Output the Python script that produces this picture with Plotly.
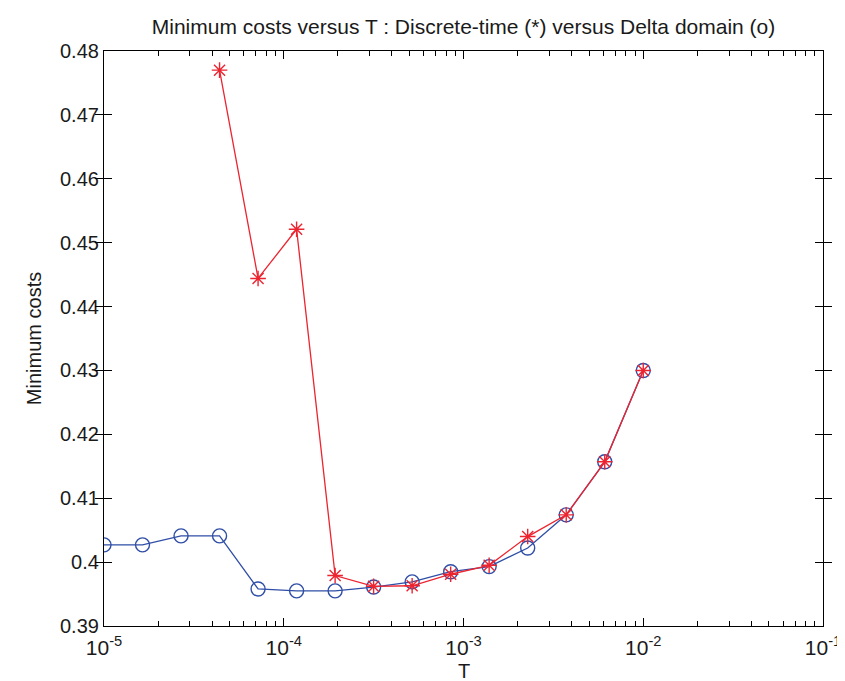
import numpy as np
import plotly.graph_objects as go

# Sampling periods T (15 logarithmically spaced values from 1e-5 to 1e-2)
T_values = [1.0e-5, 1.638e-5, 2.683e-5, 4.394e-5, 7.197e-5, 1.179e-4, 1.931e-4,
            3.162e-4, 5.179e-4, 8.483e-4, 1.389e-3, 2.276e-3, 3.728e-3,
            6.105e-3, 1.0e-2]

# Delta domain minimum costs (o)
delta_costs = [0.4027, 0.4027, 0.4041, 0.4041, 0.3958, 0.3955, 0.3955, 0.3961,
               0.3969, 0.3985, 0.3993, 0.4022, 0.4074, 0.4157, 0.4300]

# Discrete-time minimum costs (*), available from the 4th T value on
discrete_T = T_values[3:]
discrete_costs = [0.4770, 0.4444, 0.4521, 0.3979, 0.3962, 0.3963, 0.3981,
                  0.3995, 0.4040, 0.4074, 0.4157, 0.4300]

# Axis ticks
x_decades = [1e-5, 1e-4, 1e-3, 1e-2, 1e-1]
x_decade_labels = ["10<sup>-5</sup>", "10<sup>-4</sup>", "10<sup>-3</sup>",
                   "10<sup>-2</sup>", "10<sup>-1</sup>"]
y_tick_vals = [0.39, 0.40, 0.41, 0.42, 0.43, 0.44, 0.45, 0.46, 0.47, 0.48]
y_tick_text = ["0.39", "0.4", "0.41", "0.42", "0.43", "0.44", "0.45", "0.46", "0.47", "0.48"]

# all log ticks (1..9 x decade) with labels only at the decades
x_all_ticks = []
x_all_text = []
for i, d in enumerate(x_decades):
    if i == len(x_decades) - 1:
        x_all_ticks.append(d)
        x_all_text.append(x_decade_labels[i])
        break
    for m in range(1, 10):
        x_all_ticks.append(d * m)
        x_all_text.append(x_decade_labels[i] if m == 1 else "")

BLUE = "#2f4ea6"
RED = "#ec2430"
TXT = "#1a1a1a"
FONT = "Liberation Sans, Arial, Helvetica, sans-serif"
XRANGE = [-5, -1]

fig = go.Figure()
fig.add_trace(go.Scatter(
    x=T_values, y=delta_costs, mode="lines+markers",
    line=dict(color=BLUE, width=1.3),
    marker=dict(symbol="circle-open", size=14, color=BLUE, line=dict(width=1.4, color=BLUE)),
    showlegend=False, name="Delta domain"))
fig.add_trace(go.Scatter(
    x=discrete_T, y=discrete_costs, mode="lines+markers",
    line=dict(color=RED, width=1.3),
    marker=dict(symbol="asterisk-open", size=13, color=RED, line=dict(width=1.4, color=RED)),
    showlegend=False, name="Discrete-time"))
# invisible carrier trace for the overlay axis that draws the longer decade ticks
fig.add_trace(go.Scatter(
    x=T_values, y=delta_costs, xaxis="x2", mode="lines",
    line=dict(width=0, color="rgba(0,0,0,0)"), opacity=0,
    hoverinfo="skip", showlegend=False))

fig.update_layout(
    width=845, height=681,
    margin=dict(l=96, r=16, t=43, b=63),
    paper_bgcolor="white", plot_bgcolor="white",
    font=dict(family=FONT, size=20, color=TXT),
    title=dict(text="Minimum costs versus T : Discrete-time (*) versus Delta domain (o)",
               xref="paper", x=0.5, xanchor="center",
               yref="container", y=1 - 19 / 681, yanchor="middle",
               font=dict(family=FONT, size=21, color=TXT)),
    xaxis=dict(
        type="log", range=XRANGE, tickmode="array",
        tickvals=x_all_ticks, ticktext=x_all_text,
        showline=True, linecolor="black", linewidth=1.2, mirror="allticks",
        ticks="inside", ticklen=5, tickwidth=1, tickcolor="black",
        showgrid=False, zeroline=False, ticklabelstandoff=3,
        ticklabeloverflow="allow",
        tickfont=dict(family=FONT, size=21, color=TXT),
    ),
    xaxis2=dict(
        type="log", range=XRANGE, overlaying="x", anchor="y", side="bottom",
        tickmode="array", tickvals=x_decades, showticklabels=False,
        showline=False, mirror="allticks",
        ticks="inside", ticklen=8, tickwidth=1, tickcolor="black",
        showgrid=False, zeroline=False,
    ),
    yaxis=dict(
        range=[0.39, 0.48], tickvals=y_tick_vals, ticktext=y_tick_text,
        showline=True, linecolor="black", linewidth=1.2, mirror="allticks",
        ticks="inside", ticklen=8, tickwidth=1, tickcolor="black",
        showgrid=False, zeroline=False,
        title=dict(text="Minimum costs", font=dict(family=FONT, size=20, color=TXT), standoff=12),
        tickfont=dict(family=FONT, size=20, color=TXT),
    ),
    annotations=[dict(text="T", xref="x domain", yref="y domain", x=0.5, y=-45 / 575,
                      xanchor="center", yanchor="middle", showarrow=False,
                      font=dict(family=FONT, size=20, color=TXT))],
)

fig.write_html("out.html")
